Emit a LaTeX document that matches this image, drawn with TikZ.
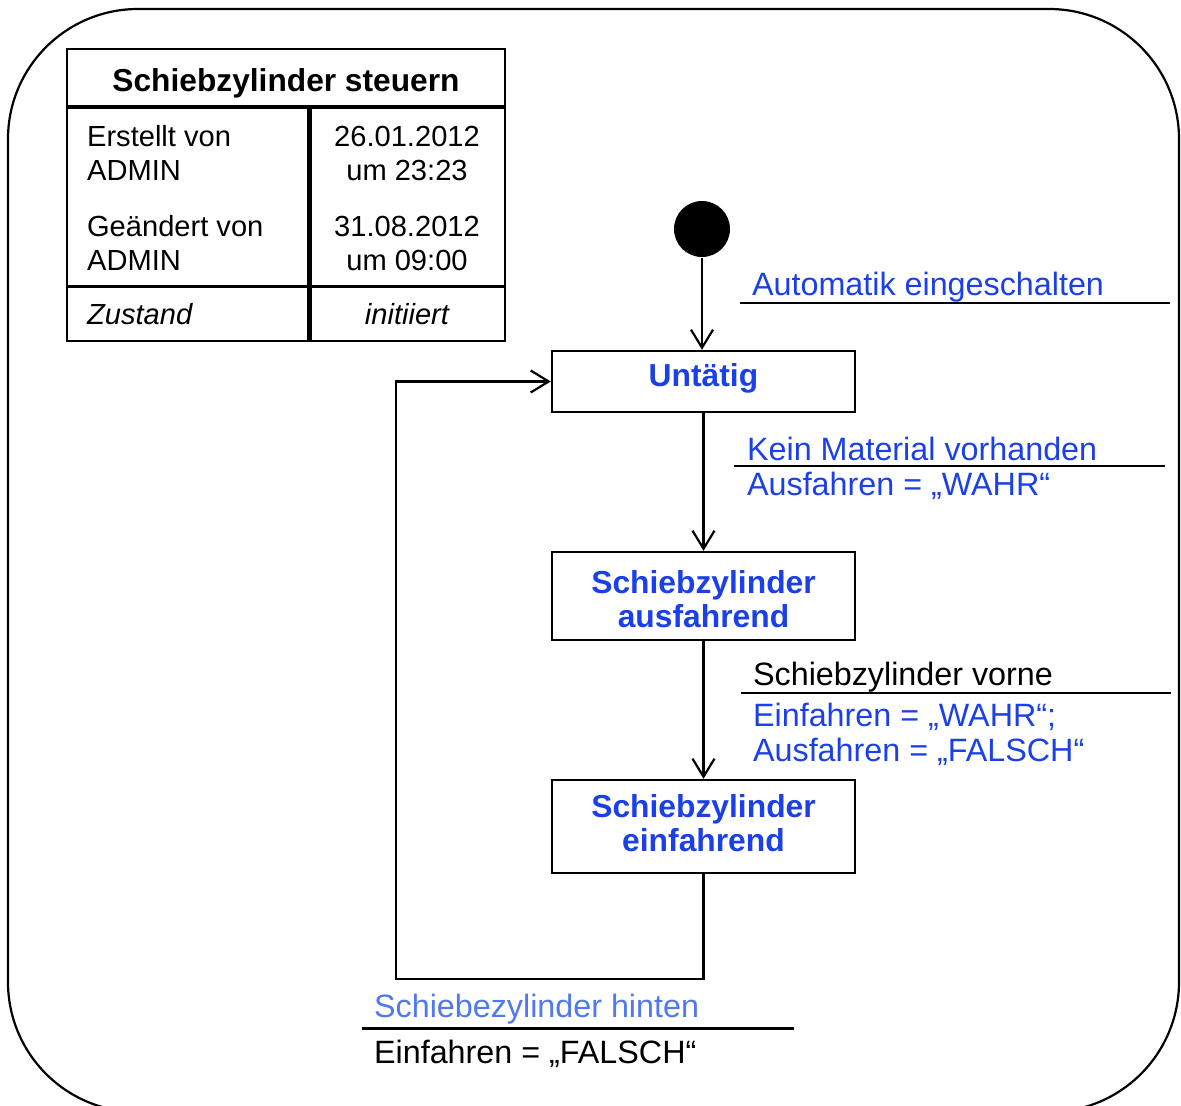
\documentclass[tikz,border=0pt]{standalone}
\usepackage{fontspec}
\setmainfont{Liberation Sans}
\usetikzlibrary{arrows.meta}
\definecolor{stateblue}{RGB}{28,64,232}
\definecolor{softblue}{RGB}{80,120,240}

\begin{document}
\begin{tikzpicture}[x=1pt,y=-1pt,line width=2.2pt,
  flow/.style={-{Straight Barb[length=18pt,width=22pt]}},
  statebox/.style={draw,line width=2.4pt,minimum width=303pt,inner sep=0pt},
  statetext/.style={font=\fontsize{31.8}{34}\selectfont\bfseries,text=stateblue,anchor=base,inner sep=0pt},
  lbl/.style={font=\fontsize{32.3}{35}\selectfont,anchor=base west,inner sep=0pt},
  cell/.style={font=\fontsize{29.1}{34}\selectfont,anchor=base west,inner sep=0pt},
  cellc/.style={font=\fontsize{29.1}{34}\selectfont,anchor=base,inner sep=0pt},
  rule/.style={line width=2.6pt}]
\useasboundingbox (0,0) rectangle (1181,1106);
\clip (0,0) rectangle (1181,1106);

% frame of the state machine
\draw[line width=2.2pt,rounded corners=130pt] (8,9) rectangle (1179,1112);

% info table
\draw[line width=2.2pt] (67,49) rectangle (505,341);
\draw[line width=4pt] (67,107) -- (505,107);
\draw[line width=4.5pt] (309.5,107) -- (309.5,341);
\draw[line width=2.2pt] (67,286.5) -- (505,286.5);
\node[font=\fontsize{31.7}{34}\selectfont\bfseries,anchor=base,inner sep=0pt] (title) at (286,91) {Schiebzylinder steuern};
\node[cell] (c1) at (86,146) {Erstellt von};
\node[cell] (c2) at (86,180) {ADMIN};
\node[cell] (c3) at (86,236) {Geändert von};
\node[cell] (c4) at (86,270) {ADMIN};
\node[cell,font=\fontsize{29.1}{34}\selectfont\itshape] (c5) at (86,324) {Zustand};
\node[cellc] (d1) at (407,146) {26.01.2012};
\node[cellc] (d2) at (407,180) {um 23:23};
\node[cellc] (d3) at (407,236) {31.08.2012};
\node[cellc] (d4) at (407,270) {um 09:00};
\node[cellc,font=\fontsize{29.1}{34}\selectfont\itshape] (d5) at (407,324) {initiiert};

% states
\node[circle,fill=black,minimum size=56pt,inner sep=0pt] (init) at (702,229) {};
\node[statebox,minimum height=61pt] (idle) at (703.5,381.5) {};
\node[statetext] (idleT) at (703.5,386) {Untätig};
\node[statebox,minimum height=88pt] (aus) at (703.5,596) {};
\node[statetext] (ausT1) at (703.5,593) {Schiebzylinder};
\node[statetext] (ausT2) at (703.5,627) {ausfahrend};
\node[statebox,minimum height=93pt] (ein) at (703.5,826.5) {};
\node[statetext] (einT1) at (703.5,817) {Schiebzylinder};
\node[statetext] (einT2) at (703.5,851) {einfahrend};

% transitions
\coordinate (back) at (396,979);
\draw[flow] (init) -- (init |- idle.north);
\draw[flow] (idle.south) -- (aus.north);
\draw[flow] (aus.south) -- (ein.north);
\draw[flow] (ein.south) |- (back) |- (idle.west);

% transition labels
\node[lbl,text=stateblue] (t1) at (751,295) {Automatik eingeschalten};
\draw[rule] (740,303) -- (1170,303);

\node[lbl,text=stateblue] (t2) at (746,460) {Kein Material vorhanden};
\draw[rule] (734,466) -- (1165,466);
\node[lbl,text=stateblue] (t2a) at (746,495) {Ausfahren = „WAHR“};

\node[lbl] (t3) at (752,685) {Schiebzylinder vorne};
\draw[rule] (741,693) -- (1171,693);
\node[lbl,text=stateblue] (t3a) at (752,726) {Einfahren = „WAHR“;};
\node[lbl,text=stateblue] (t3b) at (752,761) {Ausfahren = „FALSCH“};

\node[lbl,text=softblue] (t4) at (373,1017) {Schiebezylinder hinten};
\draw[rule] (362,1028.5) -- (794,1028.5);
\node[lbl] (t4a) at (373,1063) {Einfahren = „FALSCH“};
\end{tikzpicture}
\end{document}
